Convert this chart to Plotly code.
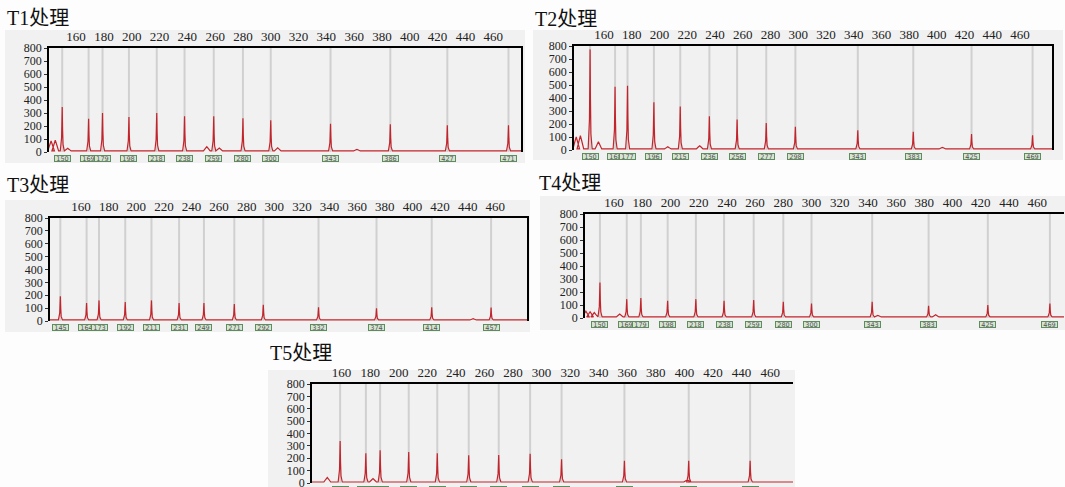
import plotly.graph_objects as go

W, H = 1065, 487

# ---------------- data ----------------
titles = ["T1处理", "T2处理", "T3处理", "T4处理", "T5处理"]
x_ticks = [160, 180, 200, 220, 240, 260, 280, 300, 320, 340, 360, 380, 400, 420, 440, 460]
y_ticks = [0, 100, 200, 300, 400, 500, 600, 700, 800]

t1_sizes = [150, 169, 179, 198, 218, 238, 259, 280, 300, 343, 386, 427, 471]
t1_heights = [346, 256, 300, 270, 300, 274, 274, 259, 244, 218, 213, 205, 205]
t1_minor_pos = [142, 145, 154, 254, 263, 305, 362]
t1_minor_h = [85, 90, 28, 40, 30, 32, 20]

t2_sizes = [150, 168, 177, 196, 215, 236, 256, 277, 298, 343, 383, 425, 469]
t2_heights = [774, 487, 495, 368, 335, 259, 234, 208, 178, 152, 140, 122, 114]
t2_minor_pos = [140, 143, 156, 206, 229, 404]
t2_minor_h = [100, 110, 63, 25, 33, 20]

t3_sizes = [145, 164, 173, 192, 211, 231, 249, 271, 292, 332, 374, 414, 457]
t3_heights = [193, 139, 160, 147, 160, 139, 139, 131, 126, 107, 99, 107, 104]
t3_minor_pos = [444]
t3_minor_h = [18]

t4_sizes = [150, 169, 179, 198, 218, 238, 259, 280, 300, 343, 383, 425, 469]
t4_heights = [273, 145, 153, 132, 145, 132, 138, 125, 112, 125, 94, 99, 112]
t4_minor_pos = [140, 143, 146, 164, 347, 388]
t4_minor_h = [52, 48, 42, 30, 20, 25]

t5_sizes = [159, 177, 187, 207, 227, 249, 270, 292, 314, 358, 403, 446]
t5_heights = [339, 240, 264, 251, 240, 224, 227, 237, 192, 179, 179, 179]
t5_minor_pos = [150, 182, 402]
t5_minor_h = [45, 35, 25]

all_sizes = [t1_sizes, t2_sizes, t3_sizes, t4_sizes, t5_sizes]
all_heights = [t1_heights, t2_heights, t3_heights, t4_heights, t5_heights]
all_minor_pos = [t1_minor_pos, t2_minor_pos, t3_minor_pos, t4_minor_pos, t5_minor_pos]
all_minor_h = [t1_minor_h, t2_minor_h, t3_minor_h, t4_minor_h, t5_minor_h]

# ---------------- layout geometry (pixels) ----------------
panels = [
    dict(l=49, r=521, t=48, b=152, xr=(140.5, 480), bg=(5, 30, 525, 163), title=(5, 18), rb=True),
    dict(l=574, r=1052, t=46, b=150, xr=(138.4, 483), bg=(533, 30, 1063, 160), title=(533, 19), rb=True),
    dict(l=50, r=527, t=218, b=321, xr=(137.5, 483), bg=(5, 200, 530, 332), title=(5, 185), rb=True),
    dict(l=585, r=1064, t=214, b=318, xr=(139.4, 479), bg=(540, 196, 1065, 330), title=(537, 183), rb=False),
    dict(l=312, r=793, t=384, b=483, xr=(139.3, 476), bg=(268, 370, 795, 487), title=(268, 353), rb=False),
]

BASE = 8
MAJOR_OFF = [-1.4, -0.45, -0.15, 0.0, 0.25, 0.6, 1.5]
MAJOR_FR = [0.0, 0.3, 0.75, 1.0, 0.5, 0.15, 0.0]
MINOR_OFF = [-2.4, -1.0, 0.0, 1.0, 2.4]
MINOR_FR = [0.0, 0.6, 1.0, 0.6, 0.0]


def px_x(v):
    return v / W


def px_y(v):
    return 1 - v / H


def build_trace(sizes, heights, mpos, mh, xr):
    events = sorted([(p, h, True) for p, h in zip(sizes, heights)] +
                    [(p, h, False) for p, h in zip(mpos, mh)])
    xs, ys = [xr[0]], [BASE]
    for p, h, major in events:
        offs, frs = (MAJOR_OFF, MAJOR_FR) if major else (MINOR_OFF, MINOR_FR)
        for o, f in zip(offs, frs):
            xs.append(p + o)
            ys.append(BASE + f * (h - BASE))
    xs.append(xr[1])
    ys.append(BASE)
    return xs, ys


fig = go.Figure()
shapes = []
annotations = []
layout_axes = {}

SERIF = "Liberation Serif"
RED = "#c3242b"

for i, pnl in enumerate(panels):
    k = "" if i == 0 else str(i + 1)
    xa, ya = "x" + k, "y" + k

    x0, y0, x1, y1 = pnl["bg"]
    shapes.append(dict(type="rect", xref="paper", yref="paper",
                       x0=px_x(x0), x1=px_x(x1), y0=px_y(y1), y1=px_y(y0),
                       fillcolor="rgb(241,241,241)", line=dict(width=0), layer="below"))

    for s in all_sizes[i]:
        shapes.append(dict(type="line", xref=xa, yref=ya + " domain", x0=s, x1=s, y0=0, y1=1,
                           line=dict(color="rgb(208,208,208)", width=2), layer="below"))

    xs, ys = build_trace(all_sizes[i], all_heights[i], all_minor_pos[i], all_minor_h[i], pnl["xr"])
    fig.add_trace(go.Scatter(x=xs, y=ys, mode="lines", xaxis=xa, yaxis=ya,
                             line=dict(color=RED, width=1.2), showlegend=False,
                             hoverinfo="skip"))

    layout_axes["xaxis" + k] = dict(
        domain=[px_x(pnl["l"]), px_x(pnl["r"])], anchor=ya, side="top",
        range=list(pnl["xr"]), tickvals=x_ticks, ticks="", showgrid=False,
        zeroline=False, showline=True, linecolor="black", linewidth=2, automargin=False,
        ticklabeloverflow="allow",
        tickfont=dict(family=SERIF, size=13, color="#222"), fixedrange=True)
    layout_axes["yaxis" + k] = dict(
        domain=[px_y(pnl["b"]), px_y(pnl["t"])], anchor=xa, range=[0, 800],
        tickvals=y_ticks, ticks="outside", ticklen=3, tickcolor="#333", automargin=False,
        ticklabeloverflow="allow",
        showgrid=False, zeroline=False, showline=True, linecolor="black", linewidth=1.5,
        mirror=pnl["rb"], tickfont=dict(family=SERIF, size=12, color="#222"),
        fixedrange=True)

    tx, ty = pnl["title"]
    annotations.append(dict(text=titles[i], xref="paper", yref="paper",
                            x=px_x(tx), y=px_y(ty), xanchor="left", yanchor="middle",
                            showarrow=False,
                            font=dict(family="Liberation Serif, Noto Sans CJK SC", size=20, color="#111")))

    for s in all_sizes[i]:
        annotations.append(dict(text=str(s), xref=xa, yref="paper", x=s,
                                y=px_y(pnl["b"] + 6), xanchor="center", yanchor="middle",
                                showarrow=False, width=15, height=5, borderpad=0,
                                bordercolor="rgb(95,140,95)", borderwidth=1,
                                bgcolor="rgb(214,228,210)",
                                font=dict(family="DejaVu Sans", size=6.5, color="#555")))

fig.update_layout(
    width=W, height=H, margin=dict(l=0, r=0, t=0, b=0, autoexpand=False),
    paper_bgcolor="rgb(253,253,253)", plot_bgcolor="rgba(0,0,0,0)",
    shapes=shapes, annotations=annotations, showlegend=False,
    **layout_axes)

fig.write_html("out.html", config={"displayModeBar": False},
               post_script="document.body.style.margin='0';document.body.style.overflow='hidden';")
